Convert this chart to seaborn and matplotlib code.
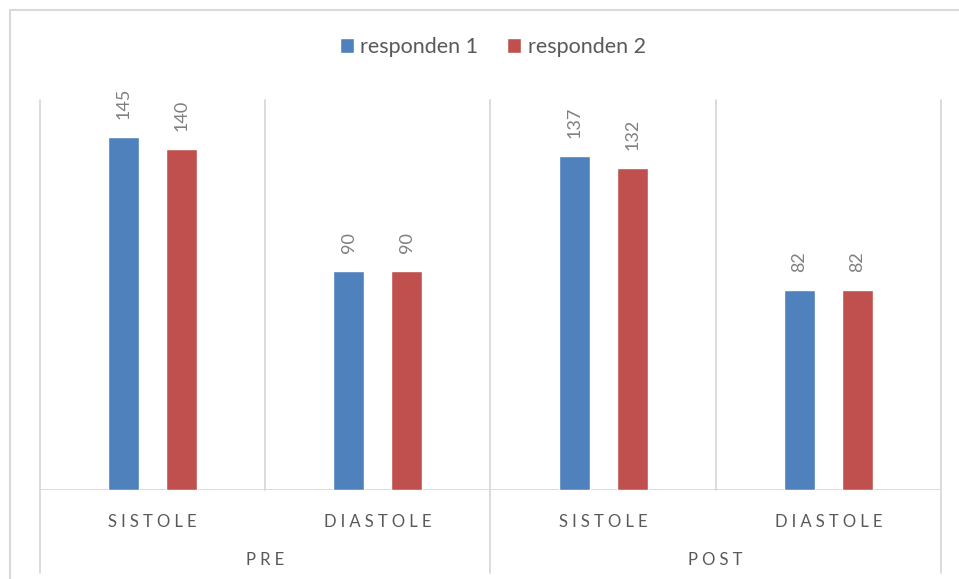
import matplotlib
matplotlib.use("Agg")
import matplotlib.pyplot as plt
from matplotlib.lines import Line2D
import pandas as pd
import seaborn as sns

# data
phases = ["PRE", "PRE", "POST", "POST"]
measures = ["SISTOLE", "DIASTOLE", "SISTOLE", "DIASTOLE"]
responden_1 = [145, 90, 137, 82]
responden_2 = [140, 90, 132, 82]
series_names = ["responden 1", "responden 2"]
colors = ["#4F81BD", "#C0504D"]

GRID = "#D9D9D9"
TEXT = "#595959"

sns.set_theme(style="white")
plt.rcParams["font.family"] = ["Lato", "DejaVu Sans"]


def spaced(s):
    # Excel-like letter spacing
    return "\u2005".join(s)


cats = [f"{p}-{m}" for p, m in zip(phases, measures)]
df = pd.DataFrame({
    "cat": cats * 2,
    "value": responden_1 + responden_2,
    "series": [series_names[0]] * 4 + [series_names[1]] * 4,
})

fig = plt.figure(figsize=(9.59, 5.79), dpi=100)
ax = fig.add_axes([40 / 959, 1 - 490 / 579, (941 - 40) / 959, 390 / 579])

sns.barplot(data=df, x="cat", y="value", hue="series", order=cats,
            palette=colors, saturation=1, errorbar=None,
            width=0.516, gap=0.467, ax=ax)

for cont in ax.containers:
    ax.bar_label(cont, rotation=90, padding=13, fontsize=13, color="#7F7F7F")

ax.set_xlim(-0.5, len(cats) - 0.5)
ax.set_ylim(0, 160)
ax.set_yticks([])
ax.set_xlabel("")
ax.set_ylabel("")
sns.despine(ax=ax, left=True, bottom=True)

ax.set_xticks(range(len(cats)))
ax.set_xticklabels([spaced(m) for m in measures], fontsize=12, color=TEXT)
ax.tick_params(axis="x", length=0, pad=17)

# vertical separators
for i in range(len(cats) + 1):
    x = i - 0.5
    low = -0.213 if i % 2 == 0 else 0
    ax.add_line(Line2D([x, x], [low, 1], transform=ax.get_xaxis_transform(),
                       color=GRID, lw=1.3, clip_on=False, zorder=0))
# baseline
ax.axhline(0, color=GRID, lw=1.3, zorder=0)

# second level labels
for j, p in enumerate(["PRE", "POST"]):
    ax.text(2 * j + 0.5, -0.179, spaced(p), transform=ax.get_xaxis_transform(),
            ha="center", va="center", fontsize=12, color=TEXT)

sns.move_legend(ax, "center", bbox_to_anchor=(0.5136, 1 - 47 / 579),
                bbox_transform=fig.transFigure, ncol=2, title=None,
                frameon=False, fontsize=15.5, handlelength=0.65,
                handleheight=0.65, handletextpad=0.3, columnspacing=1.35,
                labelcolor=TEXT)

# outer frame (left and top)
fig.add_artist(Line2D([10 / 959, 10 / 959], [0, 1 - 10 / 579], color=GRID, lw=1.5))
fig.add_artist(Line2D([10 / 959, 1], [1 - 10 / 579, 1 - 10 / 579], color=GRID, lw=1.5))

fig.savefig("out.png", dpi=100)
